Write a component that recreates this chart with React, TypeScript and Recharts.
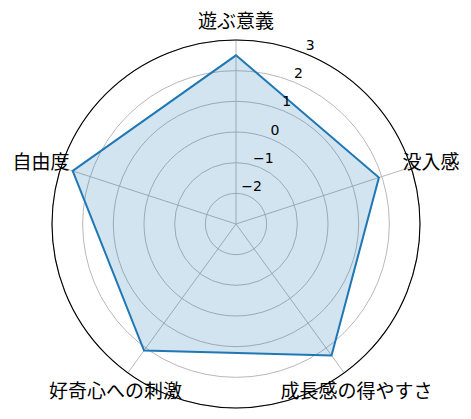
import React from "react";
import { RadarChart, Radar, PolarGrid, PolarAngleAxis, PolarRadiusAxis } from "recharts";

const categories = ["遊ぶ意義", "没入感", "成長感の得やすさ", "好奇心への刺激", "自由度"];
const scores = [2.5, 1.9, 2.3, 2.1, 2.6];
const radiusTicks = [-2, -1, 0, 1, 2, 3];
const radiusDomain = [-3, 3];

const data = categories.map((c, i) => ({ category: c, score: scores[i] }));

const CX = 236;
const CY = 224;
const OUTER = 184;
const RADIAL_ANGLE = 67.5;

const fmt = (v: number) => String(v).replace("-", "\u2212");

const AngleTick = (props: any) => {
  const { x, y, payload } = props;
  return (
    <text
      x={x}
      y={y}
      textAnchor="middle"
      dominantBaseline="central"
      fontSize={19}
      fontFamily="'Noto Sans CJK JP', 'Noto Sans', sans-serif"
      fill="#000"
    >
      {payload.value}
    </text>
  );
};

const RadiusTick = (props: any) => {
  const { x, y, payload } = props;
  const rad = (RADIAL_ANGLE * Math.PI) / 180;
  const off = 10;
  return (
    <text
      x={x + off * Math.cos(rad)}
      y={y - off * Math.sin(rad)}
      textAnchor="middle"
      dominantBaseline="central"
      fontSize={14}
      fontFamily="'DejaVu Sans', sans-serif"
      fill="#000"
    >
      {fmt(payload.value)}
    </text>
  );
};

export default function App() {
  return (
    <div style={{ position: "absolute", left: 0, top: 0, width: 471, height: 419, background: "#fff" }}>
      <RadarChart
        width={471}
        height={419}
        data={data}
        cx={CX}
        cy={CY}
        outerRadius={OUTER}
        startAngle={90}
        endAngle={-270}
        margin={{ top: 0, right: 0, bottom: 0, left: 0 }}
      >
        <PolarGrid gridType="circle" stroke="#b0b0b0" strokeWidth={0.9} />
        <PolarGrid gridType="circle" polarRadius={[OUTER]} radialLines={false} stroke="#000" strokeWidth={1.1} />
        <PolarAngleAxis
          dataKey="category"
          tick={<AngleTick />}
          tickLine={false}
          axisLine={false}
          tickSize={21}
        />
        <PolarRadiusAxis
          angle={RADIAL_ANGLE}
          domain={radiusDomain}
          ticks={radiusTicks}
          tick={<RadiusTick />}
          axisLine={false}
          tickLine={false}
        />
        <Radar
          dataKey="score"
          stroke="#1f77b4"
          strokeWidth={2}
          fill="#1f77b4"
          fillOpacity={0.2}
          isAnimationActive={false}
        />
      </RadarChart>
    </div>
  );
}
